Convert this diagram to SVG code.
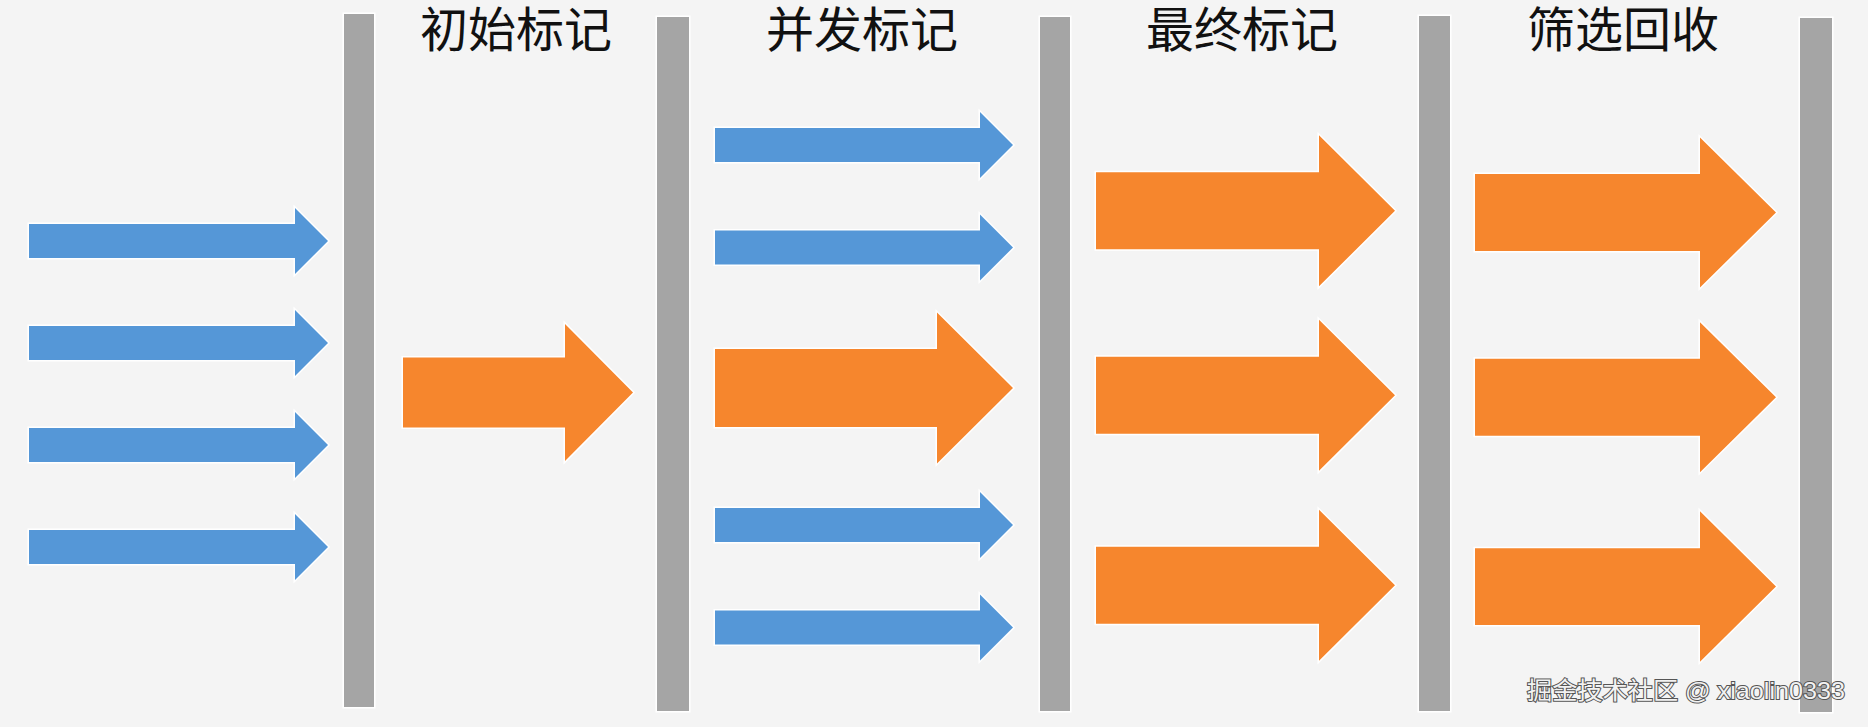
<svg xmlns="http://www.w3.org/2000/svg" width="1868" height="727" viewBox="0 0 1868 727">
<defs>
<style>
.bar{fill:#a5a5a5;stroke:#ffffff;stroke-width:3;paint-order:stroke}
.blue{fill:#5597d7;stroke:#ffffff;stroke-width:3;paint-order:stroke;stroke-linejoin:miter}
.orange{fill:#f6862d;stroke:#ffffff;stroke-width:3;paint-order:stroke;stroke-linejoin:miter}
.title{font-family:"Liberation Sans","Noto Sans CJK SC",sans-serif;font-size:48px;fill:#111111;text-anchor:middle}
.wm{font-family:"Liberation Sans","Noto Sans CJK SC",sans-serif;font-size:24px;fill:#f2f2f2;stroke:#555555;stroke-width:2;paint-order:stroke}
</style>
</defs>
<rect width="1868" height="727" fill="#f4f4f4"/>
<g id="bars">
<rect id="bar1" class="bar" x="344" y="14" width="30" height="693"/>
<rect id="bar2" class="bar" x="657" y="17" width="32" height="694"/>
<rect id="bar3" class="bar" x="1040" y="17" width="30" height="694"/>
<rect id="bar4" class="bar" x="1419" y="16" width="31" height="695"/>
<rect id="bar5" class="bar" x="1800" y="18" width="32" height="694"/>
</g>
<g id="titles">
<text id="t1" class="title" x="516" y="47">初始标记</text>
<text id="t2" class="title" x="862" y="47">并发标记</text>
<text id="t3" class="title" x="1242" y="47">最终标记</text>
<text id="t4" class="title" x="1623" y="47">筛选回收</text>
</g>
<g id="connectors">
<g id="phase0">
<polygon class="blue" points="29,224 295,224 295,208 328,241 295,274 295,258 29,258"/>
<polygon class="blue" points="29,326 295,326 295,310 328,343 295,376 295,360 29,360"/>
<polygon class="blue" points="29,428 295,428 295,412 328,445 295,478 295,462 29,462"/>
<polygon class="blue" points="29,530 295,530 295,514 328,547 295,580 295,564 29,564"/>
</g>
<g id="phase1">
<polygon class="orange" points="403,357.5 565,357.5 565,324 633,392.5 565,461 565,427.5 403,427.5"/>
</g>
<g id="phase2">
<polygon class="blue" points="715,128 980,128 980,112 1013,145 980,178 980,162 715,162"/>
<polygon class="blue" points="715,230.5 980,230.5 980,214.5 1013,247.5 980,280.5 980,264.5 715,264.5"/>
<polygon class="orange" points="715,349 937,349 937,312.5 1013,388 937,463.5 937,427 715,427"/>
<polygon class="blue" points="715,508 980,508 980,492 1013,525 980,558 980,542 715,542"/>
<polygon class="blue" points="715,610.5 980,610.5 980,594.5 1013,627.5 980,660.5 980,644.5 715,644.5"/>
</g>
<g id="phase3">
<polygon class="orange" points="1096,172.3 1319,172.3 1319,135.3 1395,210.8 1319,286.3 1319,249.3 1096,249.3"/>
<polygon class="orange" points="1096,356.8 1319,356.8 1319,319.8 1395,395.3 1319,470.8 1319,433.8 1096,433.8"/>
<polygon class="orange" points="1096,546.8 1319,546.8 1319,509.8 1395,585.3 1319,660.8 1319,623.8 1096,623.8"/>
</g>
<g id="phase4">
<polygon class="orange" points="1475,174 1700,174 1700,137.5 1776,212.5 1700,287.5 1700,251 1475,251"/>
<polygon class="orange" points="1475,358.7 1700,358.7 1700,322.2 1776,397.2 1700,472.2 1700,435.7 1475,435.7"/>
<polygon class="orange" points="1475,548.2 1700,548.2 1700,511.2 1776,586.4 1700,661.7 1700,625 1475,625"/>
</g>
</g>
<text id="watermark" class="wm" x="1527" y="699" textLength="318" lengthAdjust="spacingAndGlyphs">掘金技术社区 @ xiaolin0333</text>
</svg>
